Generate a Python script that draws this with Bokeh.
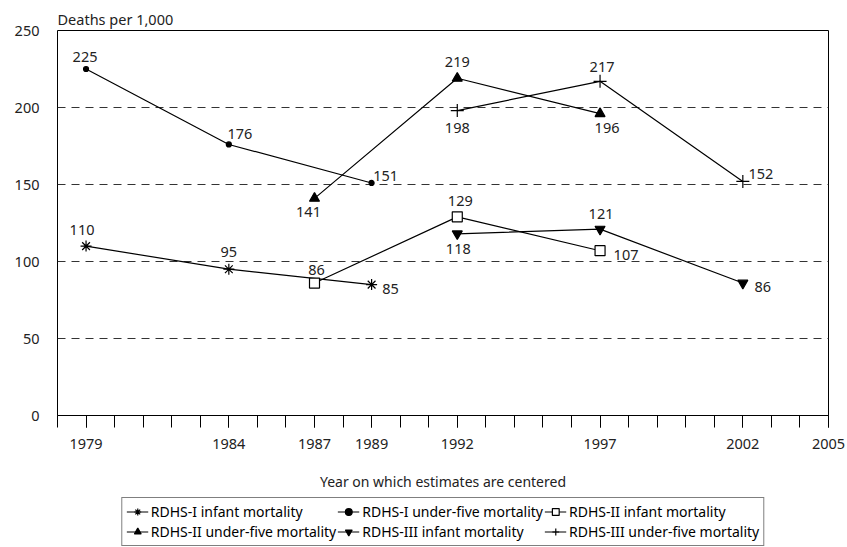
from bokeh.plotting import figure
from bokeh.layouts import column
from bokeh.models import Range1d, FixedTicker, Legend, LegendItem, ColumnDataSource
from bokeh.core.properties import value
from bokeh.embed import file_html
from bokeh.resources import INLINE

# ---- data ----
x_tick_years = [1979, 1984, 1987, 1989, 1992, 1997, 2002, 2005]
x_minor_years = list(range(1978, 2006))
y_ticks = [0, 50, 100, 150, 200, 250]

rdhs1_years = [1979, 1984, 1989]
rdhs1_infant = [110, 95, 85]
rdhs1_under5 = [225, 176, 151]

rdhs2_years = [1987, 1992, 1997]
rdhs2_infant = [86, 129, 107]
rdhs2_under5 = [141, 219, 196]

rdhs3_years = [1992, 1997, 2002]
rdhs3_infant = [118, 121, 86]
rdhs3_under5 = [198, 217, 152]

# ---- styling (label offsets in screen px, marker styles) ----
FONT = "Noto Sans"
series = [
    dict(name="RDHS-I infant mortality", x=rdhs1_years, y=rdhs1_infant,
         marker="asterisk", size=11, fill="black",
         dx=[-4, 0, 19], dy=[-16, -17, 4]),
    dict(name="RDHS-I under-five mortality", x=rdhs1_years, y=rdhs1_under5,
         marker="circle", size=5, fill="black",
         dx=[-1, 11, 14], dy=[-12, -10, -7]),
    dict(name="RDHS-II infant mortality", x=rdhs2_years, y=rdhs2_infant,
         marker="square", size=10, fill="white",
         dx=[2, 3, 26], dy=[-13, -16, 4]),
    dict(name="RDHS-II under-five mortality", x=rdhs2_years, y=rdhs2_under5,
         marker="triangle", size=10, fill="black",
         dx=[-6, 0, 7], dy=[14, -16, 14]),
    dict(name="RDHS-III infant mortality", x=rdhs3_years, y=rdhs3_infant,
         marker="inverted_triangle", size=10, fill="black",
         dx=[1, 1, 20], dy=[15, -15, 4]),
    dict(name="RDHS-III under-five mortality", x=rdhs3_years, y=rdhs3_under5,
         marker="cross", size=13, fill="black",
         dx=[0, 2, 18], dy=[17, -14, -7]),
]

# ---------------- main chart ----------------
p = figure(width=847, height=497,
           x_range=Range1d(1978, 2005), y_range=Range1d(0, 250),
           output_backend="svg", toolbar_location=None,
           min_border_left=57, min_border_right=19,
           min_border_top=30, min_border_bottom=82)

p.outline_line_color = "black"
p.outline_line_width = 1
p.outline_line_alpha = 1

# title used as the y-axis caption at top-left
p.title.text = "Deaths per 1,000"
p.title.align = "left"
p.title.text_font = FONT
p.title.text_font_size = "14.5px"
p.title.text_font_style = "normal"
p.title.text_color = "#222222"
p.title.standoff = 4

# x axis
xa = p.xaxis[0]
xa.ticker = FixedTicker(ticks=x_tick_years, minor_ticks=x_minor_years)
xa.major_tick_out = 12
xa.major_tick_in = 0
xa.minor_tick_out = 12
xa.minor_tick_in = 0
xa.major_tick_line_color = "black"
xa.minor_tick_line_color = "black"
xa.axis_line_color = "black"
xa.major_label_standoff = 11
xa.major_label_text_font = FONT
xa.major_label_text_font_size = "14.5px"
xa.major_label_text_color = "#222222"
xa.axis_label = "Year on which estimates are centered"
xa.axis_label_standoff = 20
xa.axis_label_text_font = FONT
xa.axis_label_text_font_size = "14px"
xa.axis_label_text_font_style = "normal"
xa.axis_label_text_color = "#222222"

# y axis
ya = p.yaxis[0]
ya.ticker = FixedTicker(ticks=y_ticks, minor_ticks=[])
ya.major_tick_out = 0
ya.major_tick_in = 0
ya.minor_tick_out = 0
ya.minor_tick_in = 0
ya.axis_line_color = None
ya.major_label_standoff = 18
ya.major_label_text_font = FONT
ya.major_label_text_font_size = "14.5px"
ya.major_label_text_color = "#222222"

p.xgrid.visible = False
p.ygrid.ticker = FixedTicker(ticks=[50, 100, 150, 200])
p.ygrid.grid_line_color = "#333333"
p.ygrid.grid_line_dash = "8 6"
p.ygrid.grid_line_width = 1

for s in series:
    p.line(s["x"], s["y"], line_color="black", line_width=1.2)
    p.scatter(s["x"], s["y"], marker=s["marker"], size=s["size"],
              line_color="black", fill_color=s["fill"], line_width=1.2)
    src = ColumnDataSource(dict(x=s["x"], y=s["y"],
                                t=[str(v) for v in s["y"]],
                                dx=s["dx"], dy=s["dy"]))
    p.text(x="x", y="y", text="t", x_offset="dx", y_offset="dy", source=src,
           text_align="center", text_baseline="middle",
           text_font=value(FONT), text_font_size="14.5px", text_color="#222222")

# ---------------- legend strip (same series, legend only) ----------------
lg = figure(width=847, height=50,
            x_range=Range1d(0, 1), y_range=Range1d(0, 1),
            x_axis_type=None, y_axis_type=None,
            output_backend="svg", toolbar_location=None,
            min_border_left=57, min_border_right=19,
            min_border_top=0, min_border_bottom=0)
lg.outline_line_color = None
lg.xgrid.visible = False
lg.ygrid.visible = False

items = []
for s in series:
    ln = lg.line(s["x"], s["y"], line_color="black", line_width=1.2)
    sc = lg.scatter(s["x"], s["y"], marker=s["marker"], size=s["size"] - 1,
                    line_color="black", fill_color=s["fill"], line_width=1.2)
    items.append(LegendItem(label=s["name"], renderers=[ln, sc]))

legend = Legend(items=items, location="top_center", orientation="horizontal",
                ncols=3, border_line_color="black", border_line_width=1,
                background_fill_color="white", background_fill_alpha=1,
                padding=4, spacing=1, margin=0,
                glyph_width=22, glyph_height=17, label_height=17,
                label_standoff=3, label_text_font=FONT,
                label_text_font_size="14px", label_text_color="black")
lg.add_layout(legend)

layout = column(p, lg, spacing=0)
open("out.html", "w").write(file_html(layout, INLINE))
